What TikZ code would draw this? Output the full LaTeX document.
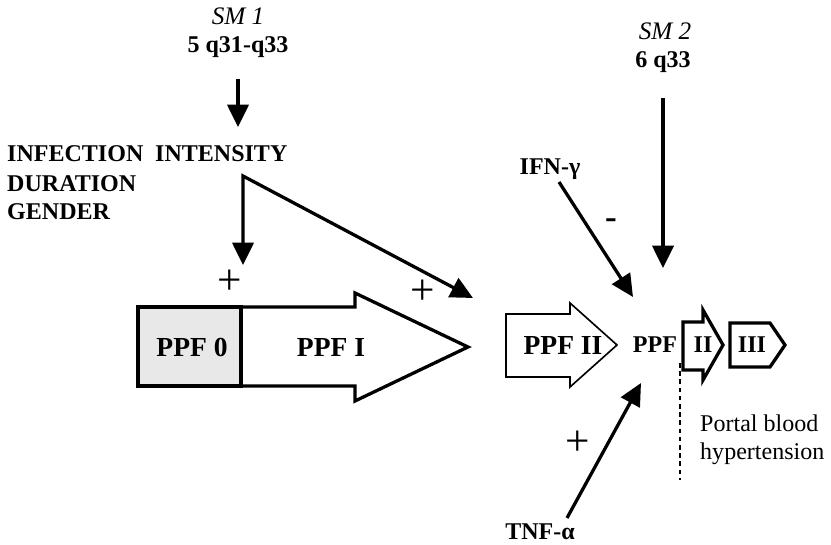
\documentclass[tikz,border=0pt]{standalone}
\usepackage{fontspec}
\setmainfont{Liberation Serif}
\usetikzlibrary{arrows.meta}

\begin{document}
\begin{tikzpicture}[x=0.03cm, y=-0.03cm,
    every node/.style={inner sep=0pt, font=\fontsize{20.5}{24}\selectfont\bfseries}]

    \tikzstyle{arrow}=[line width=2.8pt, -{Triangle[length=19pt, width=18pt]}]
    \tikzstyle{twoway}=[line width=2.8pt, miter limit=20, {Triangle[length=19pt, width=18pt]}-{Triangle[length=19pt, width=18pt]}]
    \tikzstyle{outline}=[line width=2.8pt, line join=miter, miter limit=20]
    \tikzstyle{thinline}=[line width=1.4pt, line join=miter, miter limit=20]
    \tikzstyle{stage}=[font=\fontsize{23.5}{26}\selectfont\bfseries]
    \tikzstyle{sign}=[font=\fontsize{37}{40}\selectfont]
    \tikzstyle{locus}=[anchor=base, font=\fontsize{21.5}{24}\selectfont\itshape]

    \useasboundingbox (0,0) rectangle (831,545);

    % loci
    \node[locus] (sm1) at (238,25) {SM 1};
    \node[anchor=base] (q1) at (238,53) {5 q31-q33};
    \node[locus] (sm2) at (665,40) {SM 2};
    \node[anchor=base] (q2) at (663,68) {6 q33};

    % risk factors
    \node[anchor=base west] (infection) at (7,162) {INFECTION};
    \node[anchor=base west] (intensity) at (155,162) {INTENSITY};
    \node[anchor=base west] (duration) at (7,192) {DURATION};
    \node[anchor=base west] (gender) at (7,220) {GENDER};

    \node[anchor=base] (ifn) at (550,175) {IFN-γ};
    \node[anchor=base] (tnf) at (540,540) {TNF-α};

    % stages
    \draw[outline, fill=gray!18] (138,307) rectangle (241,386);
    \draw[outline] (241,307) -- (355,307) -- (355,293) -- (468,347)
        -- (355,401) -- (355,386) -- (241,386);
    \draw[thinline] (506,314) -- (570,314) -- (570,303) -- (617,345)
        -- (570,387) -- (570,377) -- (506,377) -- cycle;
    \draw[outline] (683,322) -- (703,322) -- (703,310) -- (723,345)
        -- (703,380) -- (703,370) -- (683,370) -- cycle;
    \draw[outline] (730,323) -- (770,323) -- (785,345) -- (770,367)
        -- (730,367) -- cycle;

    \node[stage] (ppf0) at (192,347) {PPF 0};
    \node[stage] (ppf1) at (331,347) {PPF I};
    \node[stage] (ppf2) at (563,345) {PPF II};
    \node (ppf) at (655,345) {PPF};
    \node (ii) at (703,345) {II};
    \node (iii) at (752,345) {III};

    % arrow ends
    \coordinate (sm1top) at (238,79);
    \coordinate (sm1tip) at (238,127);
    \coordinate (fork) at (243,176);
    \coordinate (tip0) at (243,265);
    \coordinate (tip1) at (473,298);
    \coordinate (ifnfoot) at (559,182);
    \coordinate (ifntip) at (633,297);
    \coordinate (sm2top) at (663,98);
    \coordinate (sm2tip) at (663,268);
    \coordinate (tnffoot) at (567,518);
    \coordinate (tnftip) at (641,383);
    \coordinate (cuttop) at (680,363);
    \coordinate (cutbot) at (680,480);

    \draw[arrow] (sm1top) -- (sm1tip);
    \draw[twoway] (tip0) -- (fork) -- (tip1);
    \draw[arrow] (ifnfoot) -- (ifntip);
    \draw[arrow] (sm2top) -- (sm2tip);
    \draw[arrow] (tnffoot) -- (tnftip);
    \draw[line width=1.2pt, dash pattern=on 4pt off 3pt] (cuttop) -- (cutbot);

    % signs
    \node[sign] (plus0) at (230,282) {+};
    \node[sign] (plus1) at (423,292) {+};
    \node[sign] (plus2) at (578,443) {+};
    \node[font=\fontsize{30}{32}\selectfont\bfseries] (minus) at (611,224) {-};

    \node[anchor=base west, font=\fontsize{20.5}{24}\selectfont] (portal) at (700,432) {Portal blood};
    \node[anchor=base west, font=\fontsize{20.5}{24}\selectfont] (hyper) at (700,460) {hypertension};

\end{tikzpicture}
\end{document}
